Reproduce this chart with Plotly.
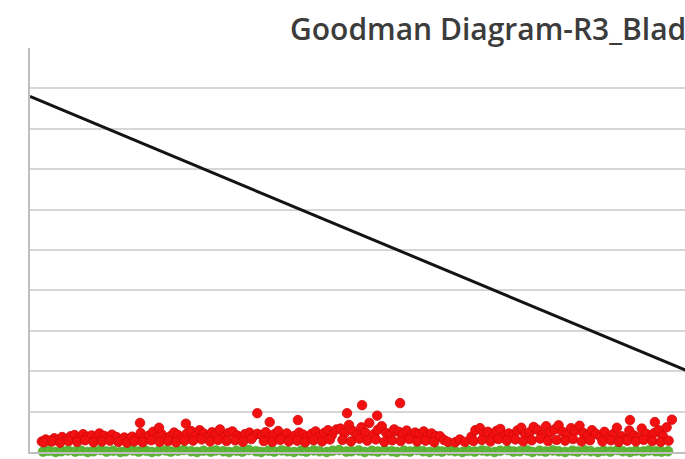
import plotly.graph_objects as go

# Goodman limit line: (mean stress, alternating stress)
goodman_x = [0, 130]
goodman_y = [88, 0]

# Stress pairs per load case (red)
red_x = [
    1.8, 2.4, 3.0, 3.7, 4.3, 4.9, 5.6, 6.2, 6.8, 7.5, 8.1, 8.7, 9.4, 10.0, 10.6, 11.3, 11.9, 12.5, 13.2, 13.8, 14.4, 15.1,
    2.1, 3.4, 4.6, 5.9, 7.2, 8.4, 9.7, 11.0, 12.2, 13.5, 14.8,
    15.6, 16.2, 16.9, 17.5, 18.2, 18.8, 19.4, 20.1, 20.7, 21.4, 22.0, 22.6, 23.3, 23.9,
    15.9, 17.2, 18.5, 19.8, 21.1, 22.3, 23.6,
    16.8, 19.7, 23.8,
    24.6, 25.2, 25.9, 26.5, 27.1, 27.8, 28.4, 29.0, 29.7, 30.3, 30.9, 31.6, 32.2, 32.8, 33.5, 34.1, 34.7,
    24.9, 26.2, 27.5, 28.7, 30.0, 31.3, 32.5, 33.8,
    34.7, 36.6,
    35.4, 36.0, 36.6, 37.3, 37.9, 38.5, 39.2, 39.8, 40.4, 41.1, 41.7, 42.3, 43.0, 43.6, 44.2, 44.9, 45.5, 46.1, 46.8,
    35.7, 37.0, 38.2, 39.5, 40.8, 42.0, 43.3, 44.6, 45.8,
    40.9,
    47.4, 48.0, 48.7, 49.3, 49.9, 50.6, 51.2, 51.8, 52.5, 53.1, 53.7, 54.4, 55.0, 55.6, 56.3, 56.9, 57.5, 58.2, 58.8, 59.4, 60.1, 60.7, 61.3, 62.0,
    47.7, 49.0, 50.3, 51.5, 52.8, 54.1, 55.3, 56.6, 57.9, 59.1, 60.4, 61.7,
    48.4, 50.7, 53.0, 56.5,
    62.6, 63.2, 63.8, 64.9, 65.6, 66.4,
    67.4, 68.0, 68.7, 69.3, 69.9, 70.6, 71.2, 71.8, 72.5, 73.1, 73.7, 74.4, 75.0, 75.6, 76.3, 76.9, 77.5, 78.2, 78.8, 79.4, 80.1, 80.7, 81.3, 82.0, 82.6, 83.2, 83.9, 84.5, 85.1, 85.8, 86.4,
    67.7, 69.0, 70.3, 71.5, 72.8, 74.1, 75.3, 76.6, 77.9, 79.1, 80.4, 81.7, 82.9, 84.2, 85.5,
    87.1, 87.7, 88.4, 89.0, 89.6, 90.3, 90.9, 91.5, 92.2, 92.8, 93.4, 94.1, 94.7, 95.3, 96.0, 96.6, 97.2,
    87.4, 88.7, 89.9, 91.2, 92.5, 93.7, 95.0, 96.3, 97.5,
    91.6, 95.4, 98.0,
]
red_y = [
    2.6, 3.1, 2.8, 3.4, 3.0, 3.7, 3.2, 3.9, 4.2, 3.5, 4.4, 3.8, 4.1, 3.3, 4.6, 4.0, 3.4, 4.3, 3.7, 3.0, 3.6, 3.2,
    2.4, 2.6, 2.3, 2.7, 2.5, 2.9, 2.4, 2.6, 2.8, 2.5, 2.3,
    3.8, 3.2, 4.7, 3.5, 4.1, 5.0, 3.7, 4.4, 3.3, 3.9, 4.8, 4.2, 3.6, 4.5,
    2.6, 2.4, 2.9, 2.5, 2.7, 2.4, 2.8,
    7.2, 6.0, 7.0,
    5.2, 4.0, 5.4, 4.6, 3.7, 4.9, 4.3, 5.6, 3.8, 4.7, 5.1, 4.1, 3.6, 4.4, 4.8, 3.9, 4.5,
    2.8, 3.1, 2.6, 3.0, 2.7, 2.9, 2.5, 3.2,
    9.6, 7.4,
    4.2, 4.9, 3.6, 4.4, 5.2, 3.8, 4.6, 3.4, 4.0, 4.8, 4.3, 3.7, 4.5, 5.1, 3.9, 4.7, 5.4, 4.2, 5.6,
    2.7, 2.5, 3.0, 2.6, 2.8, 2.4, 2.9, 2.6, 3.1,
    7.9,
    5.8, 4.6, 6.7, 5.2, 4.1, 6.1, 4.8, 7.2, 4.4, 5.5, 6.4, 4.7, 4.2, 5.6, 5.0, 4.5, 5.3, 4.0, 4.8, 4.4, 5.1, 4.2, 4.6, 3.9,
    3.0, 2.6, 3.3, 2.8, 3.1, 2.5, 2.9, 2.7, 3.2, 2.6, 2.8, 2.4,
    9.6, 11.6, 9.0, 12.1,
    3.9, 3.0, 2.5, 2.4, 3.1, 2.5,
    3.8, 5.4, 5.9, 4.5, 5.0, 3.6, 5.2, 5.7, 4.1, 4.6, 3.9, 5.3, 6.0, 4.4, 4.9, 6.2, 5.5, 4.2, 6.4, 4.8, 5.6, 6.6, 5.0, 4.3, 5.9, 5.2, 6.5, 4.7, 4.0, 5.4, 4.5,
    2.7, 3.0, 2.6, 3.2, 2.8, 3.1, 2.6, 2.9, 3.3, 2.7, 3.0, 2.8, 3.2, 2.6, 2.9,
    3.8, 5.0, 3.4, 4.4, 6.0, 3.9, 3.2, 5.3, 4.1, 3.6, 5.8, 4.5, 3.3, 4.7, 5.4, 4.0, 6.1,
    2.6, 2.9, 2.5, 2.8, 2.6, 3.0, 2.7, 2.5, 2.8,
    7.9, 7.4, 8.0,
]

# Second stress set (green)
green_x = [
    2.0, 2.9, 3.9, 4.8, 5.8, 6.9, 7.8, 8.8, 9.7, 10.8, 11.7, 12.7, 13.8, 14.6, 15.7, 16.6, 17.7, 18.6, 19.6, 20.7,
    21.5, 22.6, 23.5, 24.6, 25.5, 26.5, 27.6, 28.4, 29.5, 30.4, 31.5, 32.4, 33.4, 34.5, 35.3, 36.4, 37.3, 38.4, 39.3, 40.3,
    41.4, 42.2, 43.3, 44.2, 45.3, 46.2, 47.2, 48.3, 49.1, 50.2, 51.1, 52.2, 53.1, 54.1, 55.2, 56.0, 57.1, 58.0, 59.1, 60.0,
    61.0, 62.1, 62.9, 64.0, 64.9, 66.0, 66.9, 67.9, 69.0, 69.8, 70.9, 71.8, 72.9, 73.8, 74.8, 75.9, 76.7, 77.8, 78.7, 79.8,
    80.7, 81.7, 82.8, 83.6, 84.7, 85.6, 86.7, 87.6, 88.6, 89.7, 90.5, 91.6, 92.5, 93.6, 94.5, 95.5, 96.4, 97.4,
]
green_y = [
    0.1, 0.3, 0.0, 0.2, 0.4, 0.1, 0.3, 0.0, 0.2, 0.5, 0.1, 0.3, 0.0, 0.2, 0.4, 0.1, 0.3, 0.0, 0.2, 0.4,
    0.1, 0.3, 0.5, 0.2, 0.0, 0.3, 0.1, 0.4, 0.2, 0.0, 0.3, 0.1, 0.5, 0.2, 0.0, 0.3, 0.1, 0.4, 0.2, 0.0,
    0.3, 0.1, 0.4, 0.2, 0.0, 0.3, 0.5, 0.1, 0.2, 0.4, 0.0, 0.3, 0.1, 0.4, 0.2, 0.0, 0.3, 0.1, 0.5, 0.2,
    0.0, 0.3, 0.1, 0.4, 0.2, 0.0, 0.3, 0.1, 0.4, 0.2, 0.0, 0.3, 0.5, 0.1, 0.2, 0.4, 0.0, 0.3, 0.1, 0.4,
    0.2, 0.0, 0.3, 0.1, 0.4, 0.2, 0.0, 0.3, 0.1, 0.5, 0.2, 0.0, 0.3, 0.1, 0.4, 0.2, 0.1, 0.2,
]

title_text = "Goodman Diagram-R3_Blad"

fig = go.Figure()

fig.add_trace(go.Scatter(
    x=goodman_x, y=goodman_y, mode="lines",
    line=dict(color="#141414", width=3), hoverinfo="skip",
))
fig.add_trace(go.Scatter(
    x=green_x, y=green_y, mode="markers", cliponaxis=False,
    marker=dict(size=10, color="#5DB333", line=dict(color="#52A02C", width=0.5)),
))
fig.add_trace(go.Scatter(
    x=red_x, y=red_y, mode="markers", cliponaxis=False,
    marker=dict(size=9.5, color="#F21010", line=dict(color="#D00A0A", width=0.8)),
))

fig.add_annotation(
    text=title_text, xref="paper", yref="paper", x=0.394, y=1.048,
    xanchor="left", yanchor="middle", showarrow=False,
    font=dict(family="Open Sans", size=30, color="#3C3C3C", weight=600),
)

fig.update_layout(
    width=685, height=459,
    margin=dict(l=30, r=0, t=48, b=7),
    paper_bgcolor="white", plot_bgcolor="white",
    showlegend=False,
)
fig.update_xaxes(
    range=[0, 100], showgrid=False, zeroline=False, showticklabels=False,
    showline=True, linecolor="#BFBFBF", linewidth=1.5, ticks="",
)
fig.update_yaxes(
    range=[0, 100], dtick=10, showgrid=True, gridcolor="#D6D6D6", gridwidth=1.5,
    zeroline=False, showticklabels=False,
    showline=True, linecolor="#BFBFBF", linewidth=1.5, ticks="",
)

fig.write_html("out.html")
